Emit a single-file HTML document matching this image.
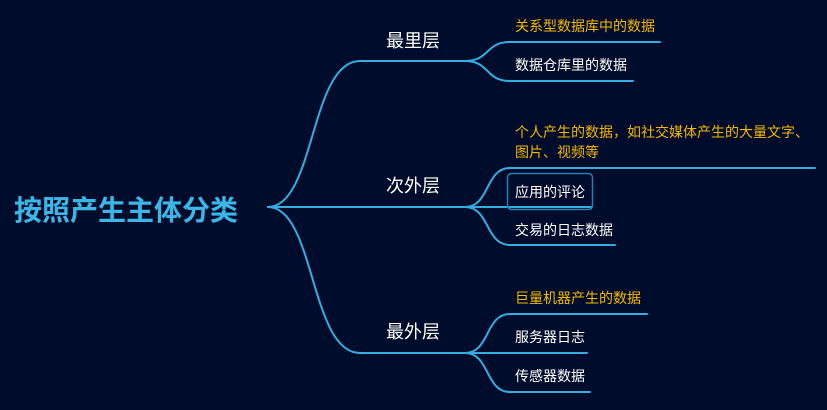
<!DOCTYPE html>
<html><head><meta charset="utf-8"><style>
html,body{margin:0;padding:0;background:#000c2b;width:827px;height:410px;overflow:hidden}
svg{display:block}
text{font-family:"Liberation Sans","Noto Sans CJK SC",sans-serif}
</style></head><body>
<svg width="827" height="410" viewBox="0 0 827 410">
<rect width="827" height="410" fill="#000c2b"/>
<g fill="none" stroke="#35ade0" stroke-width="2" stroke-linecap="round">
<path d="M268,207 C315,207 310,61 360,61 L465,61"/>
<path d="M268,207 L465,207"/>
<path d="M268,207 C315,207 310,353 360,353 L465,353"/>
<path d="M465,61 C490,61 485,42 510,42 L660,42"/>
<path d="M465,61 C490,61 485,81 510,81 L633,81"/>
<path d="M465,207 C490,207 485,168 510,168 L815,168"/>
<path d="M465,207 L592,207"/>
<path d="M465,207 C490,207 485,245 510,245 L615,245"/>
<path d="M465,353 C490,353 485,314 510,314 L647,314"/>
<path d="M465,353 L587,353"/>
<path d="M465,353 C490,353 485,392 510,392 L590,392"/>
</g>
<rect x="507.5" y="173.5" width="85" height="36" rx="4" fill="none" stroke="#2a7fb0" stroke-width="1.5"/>
<text x="14" y="220" font-size="28" font-weight="bold" fill="#3cb6e6">按照产生主体分类</text>
<g font-size="18" fill="#ffffff">
<text x="386" y="47">最里层</text>
<text x="386" y="192">次外层</text>
<text x="386" y="338">最外层</text>
</g>
<g font-size="14">
<text x="515" y="31" fill="#f5b800">关系型数据库中的数据</text>
<text x="515" y="70" fill="#ffffff">数据仓库里的数据</text>
<text x="515" y="137" fill="#f5b800">个人产生的数据，如社交媒体产生的大量文字、</text>
<text x="515" y="157" fill="#f5b800">图片、视频等</text>
<text x="515" y="197" fill="#ffffff">应用的评论</text>
<text x="515" y="235" fill="#ffffff">交易的日志数据</text>
<text x="515" y="303" fill="#f5b800">巨量机器产生的数据</text>
<text x="515" y="342" fill="#ffffff">服务器日志</text>
<text x="515" y="381" fill="#ffffff">传感器数据</text>
</g>
</svg>
</body></html>
